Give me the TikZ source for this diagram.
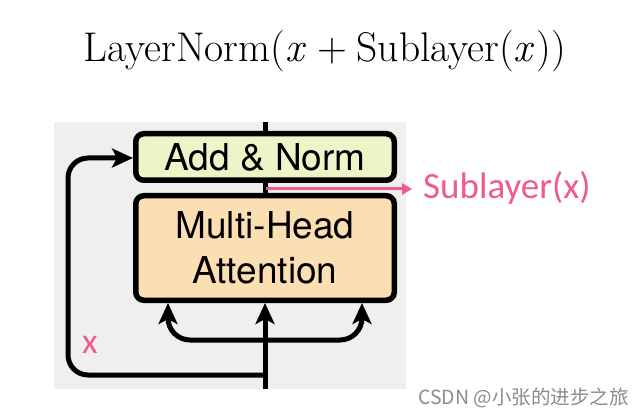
\documentclass[tikz,border=0pt]{standalone}
\usepackage{fontspec}
\usetikzlibrary{arrows.meta}
\setmainfont{Latin Modern Roman}
\newfontfamily\helv{TeX Gyre Heros}
\newfontfamily\carl{Carlito}
\newfontfamily\cjk{Noto Sans CJK SC}
\definecolor{panelgray}{RGB}{239,239,239}
\definecolor{addfill}{RGB}{238,244,200}
\definecolor{mhafill}{RGB}{251,222,178}
\definecolor{pinkc}{RGB}{238,92,140}
\definecolor{wmgray}{RGB}{140,140,140}
\tikzset{
  blockbox/.style={draw=black, line width=5.5pt, rounded corners=8pt, inner sep=0pt,
    minimum width=258.5pt, font=\helv\fontsize{37}{45}\selectfont, align=center},
  flow/.style={line width=5pt, black},
  tipbig/.style={-{Stealth[length=21pt,width=19pt,inset=5pt]}},
  pinkarrow/.style={line width=3pt, pinkc, -{Triangle[length=10pt,width=11pt]}},
}
\begin{document}
\begin{tikzpicture}[x=1pt,y=-1pt]
\useasboundingbox[fill=white] (0,0) rectangle (644,419);
\fill[panelgray] (54,122) rectangle (406,389);
% title
\node[anchor=base, inner sep=0pt, font=\fontsize{41.5}{44}\selectfont] (title) at (325,62)
  {LayerNorm(\textit{x}\hspace{0.05em}\hspace{0.222em}+\hspace{0.222em}Sublayer(\textit{x}\hspace{0.05em}))};
% connectors
\coordinate (top) at (265,122);
\coordinate (bot) at (265,389);
\coordinate (split) at (265,340);
\coordinate (loop) at (265,375);
% boxes
\node[blockbox, fill=addfill, minimum height=46.5pt] (addnorm) at (265,157) {Add \& Norm};
\node[blockbox, fill=mhafill, minimum height=104.5pt] (mha) at (265,248) {Multi-Head\\Attention};
\draw[flow] (top) -- (addnorm.north);
\draw[flow] (addnorm.south) -- (mha.north);
\draw[flow, tipbig] (bot) -- (mha.south);
\draw[flow, tipbig, rounded corners=22pt] (split) -- (168,340) -- (168,303);
\draw[flow, tipbig, rounded corners=22pt] (split) -- (362,340) -- (362,303);
\draw[flow, tipbig, rounded corners=20pt] (loop) -- (68,375) -- (68,158) -- (addnorm.west |- 0,158);
% pink output arrow
\coordinate (pstart) at (266,189);
\node[anchor=west, inner sep=0pt, text=pinkc, font=\carl\fontsize{37}{40}\selectfont] (sub) at (423,188) {Sublayer(x)};
\draw[pinkarrow] (pstart) -- (412,189);
% x label
\node[inner sep=0pt, text=pinkc, font=\carl\fontsize{36}{40}\selectfont] (xlabel) at (90,345) {x};
% watermark
\node[anchor=east, inner sep=0pt, text=wmgray, font=\cjk\fontsize{19.5}{22}\selectfont] (wm) at (629,398) {CSDN @小张的进步之旅};
\end{tikzpicture}
\end{document}
